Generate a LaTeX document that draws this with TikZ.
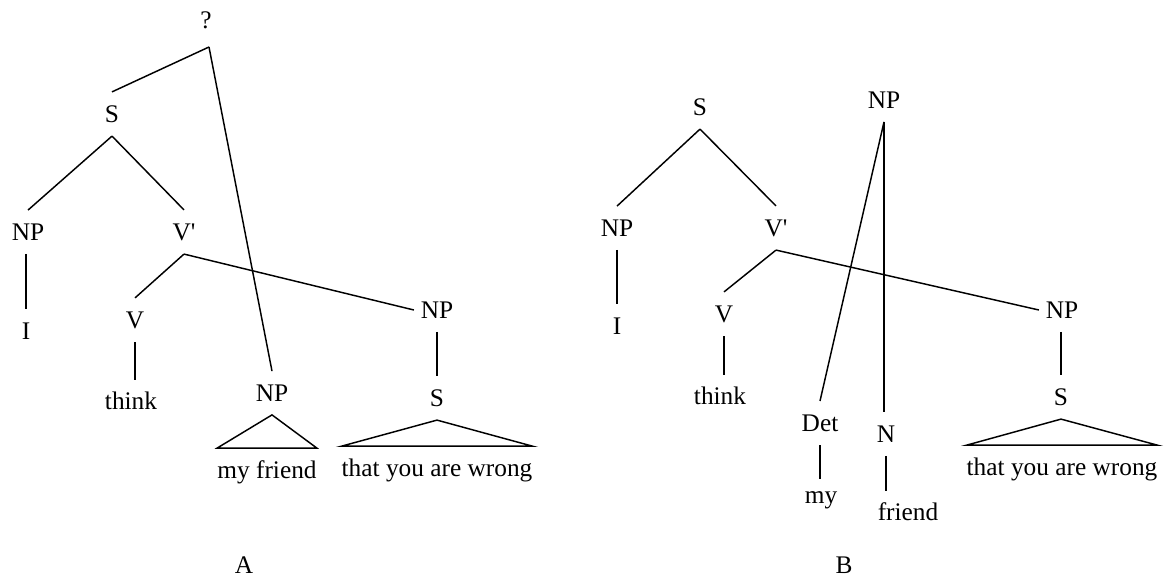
\documentclass[tikz,border=0pt]{standalone}
\usepackage{fontspec}
\setmainfont{Liberation Serif}
\usepackage{xcolor}
\usepackage{tikz}
\usetikzlibrary{positioning, calc}
\tikzset{
    cat/.style = {font=\fontsize{19}{21}\selectfont, inner xsep=5pt, inner ysep=10pt},
    leaf/.style = {font=\fontsize{19}{21}\selectfont, inner xsep=0pt, inner ysep=9pt},
    tag/.style = {font=\fontsize{19}{21}\selectfont, inner sep=0pt},
    branch/.style = {line width=1.1pt, color=black},
}

\begin{document}
\begin{tikzpicture}[x=0.75pt, y=-0.75pt]
        \useasboundingbox (0,0) rectangle (1169,581);
        % tree A
        \node[cat] (qA) at (206,20) {?};
        \coordinate (topA) at (209,47);
        \node[cat] (sA) at (112,114) {S};
        \node[cat] (npA) at (28,232) {NP};
        \node[cat] (vbA) at (184,232) {V\textquotesingle};
        \node[cat] (iA) at (26,331) {I};
        \node[cat] (vA) at (135,320) {V};
        \node[leaf] (thinkA) at (131,401) {think};
        \node[cat] (npfA) at (272,393) {NP};
        \node[leaf] (friendA) at (267,472) {my friend};
        \node[cat] (npsA) at (437,310) {NP};
        \node[cat] (ssA) at (437,398) {S};
        \node[leaf] (wrongA) at (437,470) {that you are wrong};
        \node[tag] (A) at (244,565) {A};
        \draw[branch] (topA) -- (sA.north);
        \draw[branch] (topA) -- (npfA.north);
        \draw[branch] (sA.south) -- (npA.north);
        \draw[branch] (sA.south) -- (vbA.north);
        \draw[branch] (iA.north |- npA.south) -- (iA.north);
        \draw[branch] (vbA.south) -- (vA.north);
        \draw[branch] (vbA.south) -- (npsA.west);
        \draw[branch] (vA.south) -- (vA.south |- thinkA.north);
        \draw[branch] (npfA.south) -- (friendA.north east) -- (friendA.north west) -- cycle;
        \draw[branch] (npsA.south) -- (ssA.north);
        \draw[branch] (ssA.south) -- (wrongA.north east) -- (wrongA.north west) -- cycle;
        % tree B
        \node[cat] (sB) at (700,107) {S};
        \node[cat] (npB) at (617,228) {NP};
        \node[cat] (vbB) at (776,228) {V\textquotesingle};
        \node[cat] (iB) at (617,326) {I};
        \node[cat] (vB) at (724,314) {V};
        \node[leaf] (thinkB) at (720,396) {think};
        \node[cat] (nptB) at (884,100) {NP};
        \node[cat] (detB) at (820,423) {Det};
        \node[leaf] (myB) at (821,500) {my};
        \node[cat] (nB) at (886,434) {N};
        \node[leaf] (friendB) at (908,512) {friend};
        \node[cat] (npsB) at (1062,310) {NP};
        \node[cat] (ssB) at (1061,397) {S};
        \node[leaf] (wrongB) at (1062,469) {that you are wrong};
        \node[tag] (B) at (844,565) {B};
        \draw[branch] (sB.south) -- (npB.north);
        \draw[branch] (sB.south) -- (vbB.north);
        \draw[branch] (npB.south) -- (iB.north);
        \draw[branch] (vbB.south) -- (vB.north);
        \draw[branch] (vbB.south) -- (npsB.west);
        \draw[branch] (vB.south) -- (vB.south |- thinkB.north);
        \draw[branch] (nptB.south) -- (detB.north);
        \draw[branch] (nptB.south) -- (nptB.south |- nB.north);
        \draw[branch] (detB.south) -- (detB.south |- myB.north);
        \draw[branch] (nB.south) -- (nB.south |- friendB.north);
        \draw[branch] (ssB.north |- npsB.south) -- (ssB.north);
        \draw[branch] (ssB.south) -- (wrongB.north east) -- (wrongB.north west) -- cycle;
      \end{tikzpicture}
\end{document}
